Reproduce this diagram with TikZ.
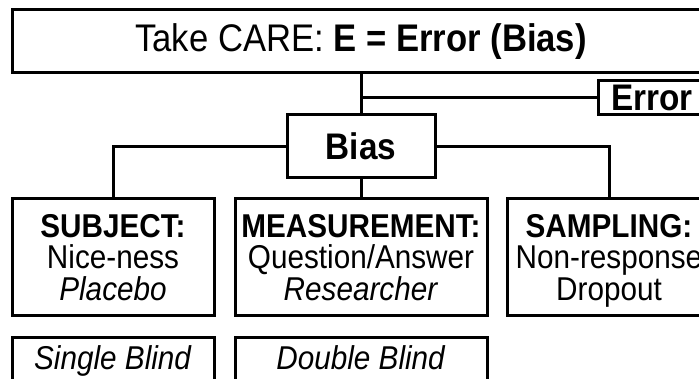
\documentclass[tikz,border=0pt]{standalone}
\usepackage{fontspec}
\setmainfont[FakeStretch=0.9]{Liberation Sans}
\newcommand{\topstrut}[1]{\rule{0pt}{#1}}
\begin{document}
\begin{tikzpicture}[x=1pt,y=-1pt,
  line width=3pt,
  box/.style={draw=black, rectangle, inner sep=0pt, align=center,
    font=\fontsize{33}{31.5}\selectfont},
  wire/.style={draw=black, line width=3pt}]
\useasboundingbox (0,0) rectangle (699,379);
\clip (0,0) rectangle (699,379);

% top heading
\node[box, minimum width=698pt, minimum height=63pt,
  font=\fontsize{38.5}{40}\selectfont] (title) at (361,41.5)
  {Take CARE: \textbf{E = Error (Bias)}};

% side branch
\node[box, minimum width=108pt, minimum height=34pt,
  font=\fontsize{37}{38}\selectfont\bfseries] (error) at (652,98) {Error};

% central node
\node[box, minimum width=148pt, minimum height=63pt,
  font=\fontsize{37}{38}\selectfont\bfseries] (bias) at (361,146.5) {Bias};

% three kinds of bias (struts keep the three lines at equal heights)
\node[box, minimum width=202pt, minimum height=117pt] (subject) at (113,257.5)
  {\topstrut{32pt}\textbf{SUBJECT:}\\Nice-ness\\\textit{Placebo}\strut};
\node[box, minimum width=252pt, minimum height=117pt] (measure) at (361,257.5)
  {\topstrut{32pt}\textbf{MEASUREMENT:}\\Question/Answer\\\textit{Researcher}\strut};
\node[box, minimum width=204pt, minimum height=117pt] (sampling) at (609,257.5)
  {\topstrut{32pt}\textbf{SAMPLING:}\\Non-response\\Dropout\strut};

% blinding remedies
\node[box, minimum width=202pt, minimum height=43pt] (single) at (113,359.5)
  {\topstrut{30pt}\textit{Single Blind}\strut};
\node[box, minimum width=252pt, minimum height=43pt] (double) at (361,359.5)
  {\topstrut{30pt}\textit{Double Blind}\strut};

% connectors
\coordinate (j) at (title.south |- error.west);
\draw[wire] (title.south -| bias.north) -- (bias.north);
\draw[wire] (j) -- (error.west);
\draw[wire] (bias.west) -| (subject.north);
\draw[wire] (bias.east) -| (sampling.north);
\draw[wire] (bias.south) -- (measure.north);
\end{tikzpicture}
\end{document}
